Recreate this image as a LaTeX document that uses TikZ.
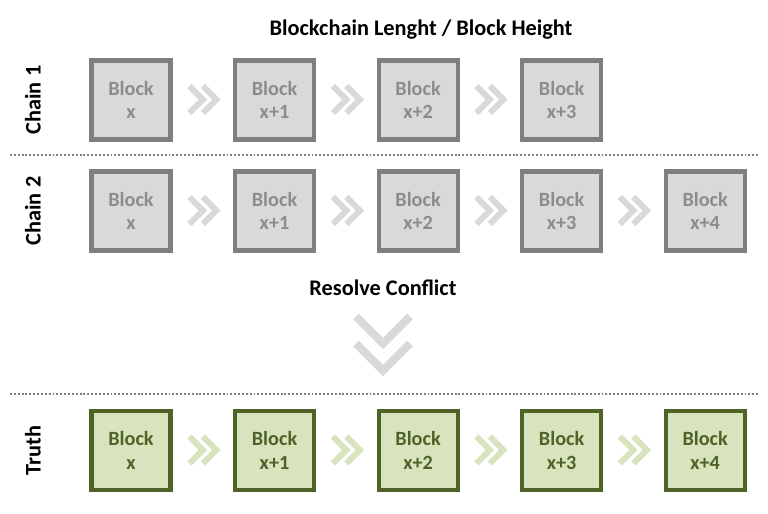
\documentclass[tikz,border=0pt]{standalone}
\usepackage{fontspec}
\setmainfont{Carlito}
\usetikzlibrary{positioning,calc}
\definecolor{blockfill}{HTML}{D9D9D9}
\definecolor{blockline}{HTML}{7F7F7F}
\definecolor{blocktext}{HTML}{8C8C8C}
\definecolor{truthfill}{HTML}{D7E4BD}
\definecolor{truthline}{HTML}{4F6228}
\definecolor{chevgrey}{HTML}{D9D9D9}

\begin{document}
\begin{tikzpicture}[
    block/.style={draw=blockline, fill=blockfill, text=blocktext, rectangle, line width=2.3pt, minimum size=1.58cm, align=center, font=\fontsize{11.5}{13.5}\selectfont\bfseries},
    truth/.style={block, draw=truthline, fill=truthfill, text=truthline},
    label/.style={font=\fontsize{12.7}{15}\selectfont\bfseries, text=black},
    row/.style={label, rotate=90},
    sep/.style={draw=blockline, line width=0.9pt, dash pattern=on 1.1pt off 1.1pt},
    node distance=1.21cm,
    chev/.pic={
        \draw[line width=0.12cm, miter limit=10, #1] (-0.27,0.28) -- (0,0.01) -- (-0.27,-0.26);
        \draw[line width=0.12cm, miter limit=10, #1] (0,0.28) -- (0.27,0.01) -- (0,-0.26);
    }
]
    \useasboundingbox (0,0) rectangle (15.36,-10.28);

    % title
    \node[label] (title) at (8.42,-0.6) {Blockchain Lenght / Block Height};

    % chain 1
    \node[row] (chain1) at (0.66,-2.0) {Chain 1};
    \node[block] (a0) at (2.62,-2.0) {Block\\x};
    \node[block, right=of a0] (a1) {Block\\x+1};
    \node[block, right=of a1] (a2) {Block\\x+2};
    \node[block, right=of a2] (a3) {Block\\x+3};

    % chain 2
    \node[row] (chain2) at (0.66,-4.22) {Chain 2};
    \node[block] (b0) at (2.62,-4.22) {Block\\x};
    \node[block, right=of b0] (b1) {Block\\x+1};
    \node[block, right=of b1] (b2) {Block\\x+2};
    \node[block, right=of b2] (b3) {Block\\x+3};
    \node[block, right=of b3] (b4) {Block\\x+4};

    % truth
    \node[row] (truthrow) at (0.66,-9.01) {Truth};
    \node[truth] (c0) at (2.62,-9.01) {Block\\x};
    \node[truth, right=of c0] (c1) {Block\\x+1};
    \node[truth, right=of c1] (c2) {Block\\x+2};
    \node[truth, right=of c2] (c3) {Block\\x+3};
    \node[truth, right=of c3] (c4) {Block\\x+4};

    % chevrons between blocks
    \foreach \i/\j in {0/1,1/2,2/3} {
        \pic at ($(a\i)!0.5!(a\j)$) {chev=chevgrey};
    }
    \foreach \i/\j in {0/1,1/2,2/3,3/4} {
        \pic at ($(b\i)!0.5!(b\j)$) {chev=chevgrey};
        \pic at ($(c\i)!0.5!(c\j)$) {chev=truthfill};
    }

    % separators
    \coordinate (s1l) at (0.2,-3.1);
    \coordinate (s1r) at (15.2,-3.1);
    \coordinate (s2l) at (0.2,-7.88);
    \coordinate (s2r) at (15.2,-7.88);
    \draw[sep] (s1l) -- (s1r);
    \draw[sep] (s2l) -- (s2r);

    % resolve
    \node[label] (resolve) at (7.66,-5.76) {Resolve Conflict};
    \coordinate (down) at (7.66,-6.9);
    \draw[chevgrey, line width=0.16cm, miter limit=10] ($(down)+(-0.54,0.57)$) -- ($(down)+(0,0.03)$) -- ($(down)+(0.54,0.57)$);
    \draw[chevgrey, line width=0.16cm, miter limit=10] ($(down)+(-0.54,0.03)$) -- ($(down)+(0,-0.51)$) -- ($(down)+(0.54,0.03)$);
\end{tikzpicture}
\end{document}
